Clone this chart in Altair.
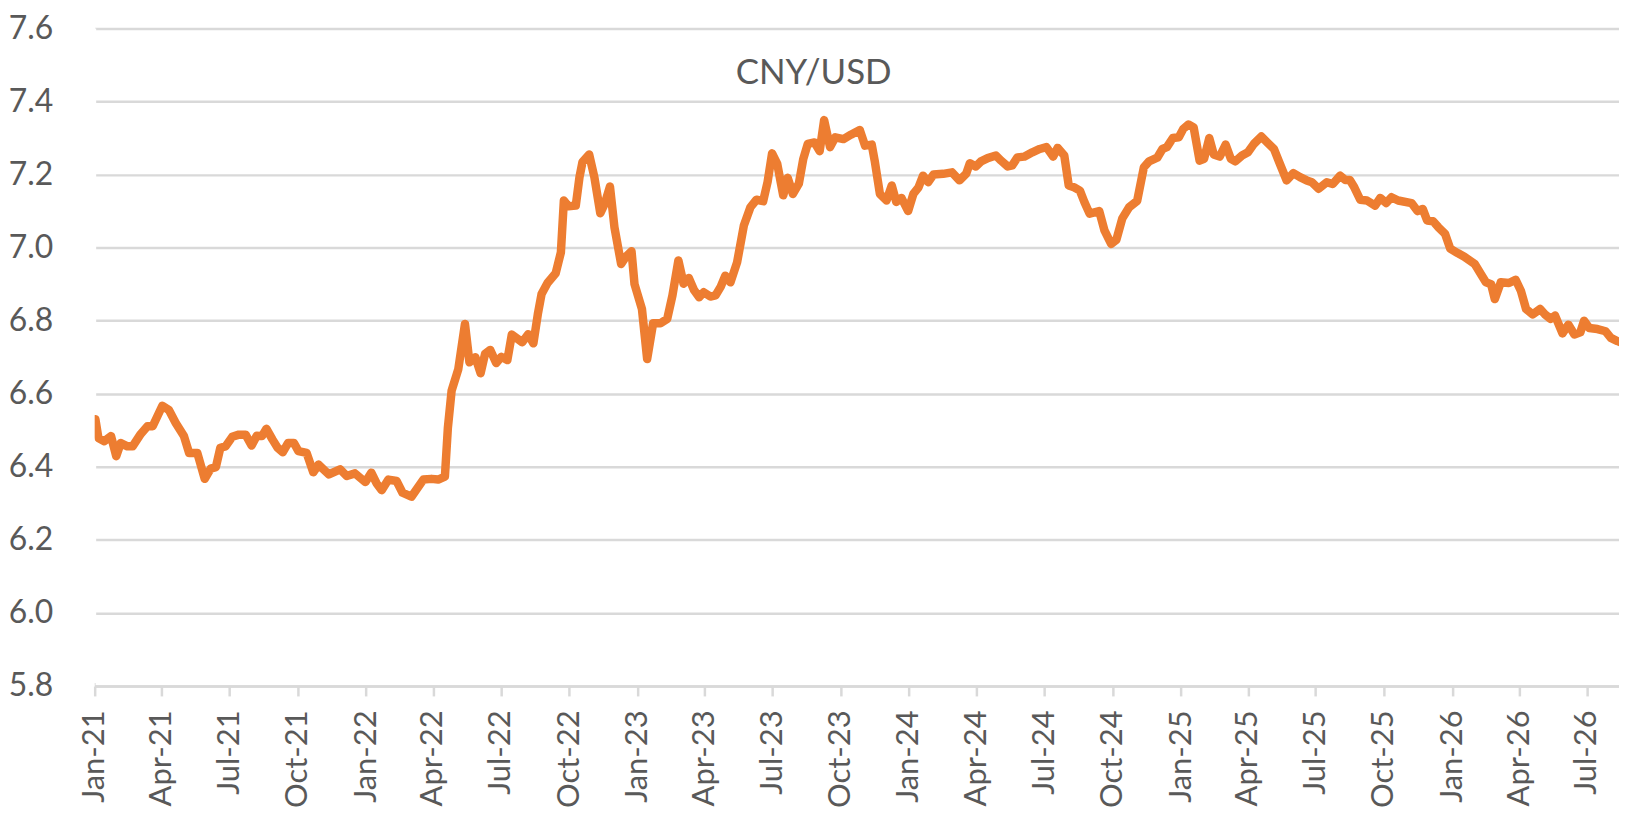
import altair as alt
import pandas as pd

day_offset = [
    1, 5, 13, 22, 29, 35, 44, 51, 62, 71, 78, 91, 100, 109, 120, 127, 138, 148,
    156, 163, 169, 176, 185, 194, 203, 211, 218, 225, 231, 239, 246, 253, 260,
    268, 274, 285, 294, 301, 315, 330, 339, 350, 364, 372, 379, 386, 395, 406,
    414, 426, 442, 453, 462, 471, 475, 480, 489, 498, 504, 512, 519, 525, 532,
    540, 547, 555, 561, 575, 583, 590, 596, 601, 609, 620, 627, 631, 637, 647,
    652, 656, 665, 672, 680, 686, 693, 699, 708, 714, 722, 726, 736, 743, 751,
    761, 770, 777, 785, 792, 799, 806, 813, 819, 828, 835, 842, 848, 855, 864,
    873, 882, 890, 899, 905, 911, 918, 926, 932, 939, 947, 953, 959, 968, 975,
    981, 989, 996, 1007, 1017, 1029, 1036, 1045, 1049, 1056, 1065, 1072, 1078,
    1085, 1094, 1101, 1108, 1114, 1121, 1128, 1141, 1153, 1163, 1172, 1177,
    1185, 1192, 1201, 1212, 1219, 1228, 1234, 1241, 1250, 1261, 1271, 1280,
    1289, 1295, 1304, 1310, 1317, 1325, 1331, 1338, 1351, 1358, 1367, 1374,
    1382, 1391, 1402, 1411, 1418, 1429, 1436, 1442, 1450, 1458, 1464, 1471,
    1478, 1486, 1492, 1499, 1505, 1513, 1521, 1528, 1534, 1543, 1551, 1559,
    1569, 1577, 1586, 1593, 1603, 1612, 1621, 1630, 1637, 1646, 1657, 1665,
    1675, 1682, 1688, 1694, 1702, 1711, 1722, 1729, 1737, 1744, 1753, 1771,
    1779, 1786, 1792, 1800, 1807, 1816, 1823, 1833, 1842, 1856, 1865, 1871,
    1878, 1883, 1891, 1902, 1911, 1918, 1925, 1934, 1944, 1950, 1958, 1964,
    1974, 1982, 1990, 1998, 2003, 2010, 2021, 2032, 2039, 2048, 2052,
]

cny_usd = [
    6.53, 6.479, 6.47, 6.484, 6.429, 6.465, 6.456, 6.456, 6.49, 6.511, 6.511,
    6.567, 6.555, 6.52, 6.484, 6.438, 6.438, 6.367, 6.395, 6.399, 6.452, 6.456,
    6.482, 6.488, 6.488, 6.458, 6.485, 6.484, 6.504, 6.475, 6.452, 6.44, 6.465,
    6.465, 6.443, 6.438, 6.385, 6.406, 6.379, 6.393, 6.375, 6.382, 6.358, 6.384,
    6.355, 6.336, 6.365, 6.361, 6.329, 6.318, 6.365, 6.367, 6.365, 6.373, 6.507,
    6.608, 6.667, 6.791, 6.686, 6.7, 6.656, 6.709, 6.72, 6.684, 6.701, 6.692,
    6.762, 6.741, 6.763, 6.738, 6.818, 6.873, 6.903, 6.93, 6.987, 7.129, 7.113,
    7.115, 7.193, 7.234, 7.255, 7.193, 7.094, 7.12, 7.167, 7.056, 6.955, 6.974,
    6.99, 6.9, 6.832, 6.695, 6.793, 6.793, 6.805, 6.869, 6.965, 6.901, 6.917,
    6.884, 6.864, 6.878, 6.866, 6.869, 6.893, 6.923, 6.905, 6.96, 7.06, 7.111,
    7.131, 7.127, 7.18, 7.258, 7.229, 7.143, 7.191, 7.147, 7.175, 7.243, 7.284,
    7.288, 7.264, 7.349, 7.275, 7.302, 7.297, 7.309, 7.322, 7.279, 7.282, 7.238,
    7.147, 7.129, 7.17, 7.125, 7.136, 7.1, 7.147, 7.165, 7.197, 7.179, 7.2,
    7.202, 7.206, 7.184, 7.202, 7.231, 7.222, 7.236, 7.245, 7.252, 7.238, 7.222,
    7.225, 7.247, 7.249, 7.261, 7.27, 7.275, 7.249, 7.273, 7.252, 7.17, 7.165,
    7.156, 7.125, 7.093, 7.1, 7.047, 7.01, 7.021, 7.08, 7.11, 7.128, 7.22,
    7.236, 7.246, 7.27, 7.275, 7.3, 7.302, 7.325, 7.337, 7.329, 7.238, 7.243,
    7.3, 7.255, 7.249, 7.282, 7.243, 7.236, 7.252, 7.261, 7.284, 7.304, 7.288,
    7.27, 7.234, 7.184, 7.204, 7.193, 7.184, 7.179, 7.161, 7.179, 7.174, 7.197,
    7.185, 7.185, 7.165, 7.131, 7.129, 7.115, 7.136, 7.122, 7.138, 7.129, 7.122,
    7.1, 7.106, 7.074, 7.072, 7.056, 7.038, 6.997, 6.985, 6.975, 6.955, 6.925,
    6.905, 6.9, 6.859, 6.905, 6.903, 6.912, 6.882, 6.832, 6.817, 6.832, 6.818,
    6.805, 6.814, 6.765, 6.789, 6.762, 6.768, 6.8, 6.78, 6.777, 6.771, 6.753,
    6.744, 6.741,
]

y_ticks = [5.8, 6.0, 6.2, 6.4, 6.6, 6.8, 7.0, 7.2, 7.4, 7.6]
tick_years = [2021, 2022, 2023, 2024, 2025, 2026]
tick_months = [1, 4, 7, 10]

base = pd.Timestamp("2021-01-01")
dates = base + pd.to_timedelta(day_offset, unit="D")
df = pd.DataFrame({"date": dates.strftime("%Y-%m-%d"), "rate": cny_usd})

x_values = [
    alt.DateTime(year=y, month=m, date=1, utc=True)
    for y in tick_years for m in tick_months
    if not (y == 2026 and m > 7)
]

FONT = "Lato"
GREY_TEXT = "#595959"
GRID = "#d9d9d9"

x_enc = alt.X(
    "date:T",
    scale=alt.Scale(
        type="utc",
        domain=[alt.DateTime(year=2021, month=1, date=1, utc=True),
                alt.DateTime(year=2026, month=8, date=13, utc=True)],
        nice=False,
    ),
    axis=alt.Axis(
        values=x_values,
        labelExpr="utcFormat(datum.value, '%b-%y')",
        labelAngle=270,
        labelAlign="right",
        labelBaseline="middle",
        labelFontSize=31,
        labelFont=FONT,
        labelColor=GREY_TEXT,
        labelPadding=14,
        labelOverlap=False,
        labelFlush=False,
        grid=False,
        domainColor=GRID,
        domainWidth=2.5,
        tickColor=GRID,
        tickWidth=2.5,
        tickSize=10,
        title=None,
    ),
)

y_enc = alt.Y(
    "rate:Q",
    scale=alt.Scale(domain=[5.8, 7.6], nice=False, zero=False),
    axis=alt.Axis(
        values=y_ticks,
        format=".1f",
        labelFontSize=32,
        labelFont=FONT,
        labelColor=GREY_TEXT,
        labelPadding=42,
        ticks=False,
        domain=False,
        grid=True,
        gridColor=GRID,
        gridWidth=2.5,
        title=None,
    ),
)

# white edge mask so that no frame line shows on the plot's left side
edge_mask = (
    alt.Chart(alt.Data(values=[{"k": 0}]))
    .mark_rule(color="white", strokeWidth=3)
    .encode(x=alt.value(0), y=alt.value(0), y2=alt.value(657))
)

line = (
    alt.Chart(df)
    .mark_line(color="#ED7D31", strokeWidth=8.5, strokeJoin="round",
               strokeCap="round", clip=True)
    .encode(x=x_enc, y=y_enc)
)

chart = (
    alt.layer(edge_mask, line)
    .properties(
        width=1530,
        height=660,
        padding={"left": 87, "top": 19, "right": 0, "bottom": 125},
        autosize=alt.AutoSizeParams(type="none"),
        title=alt.TitleParams(
            text="CNY/USD",
            anchor="middle",
            frame="bounds",
            font=FONT,
            fontSize=35,
            fontWeight="normal",
            color=GREY_TEXT,
            offset=-79,
        ),
    )
    .configure_view(strokeWidth=0, strokeOpacity=0)
    .configure(background="white")
)

chart.save("out.html", embed_options={"renderer": "svg", "actions": False})
